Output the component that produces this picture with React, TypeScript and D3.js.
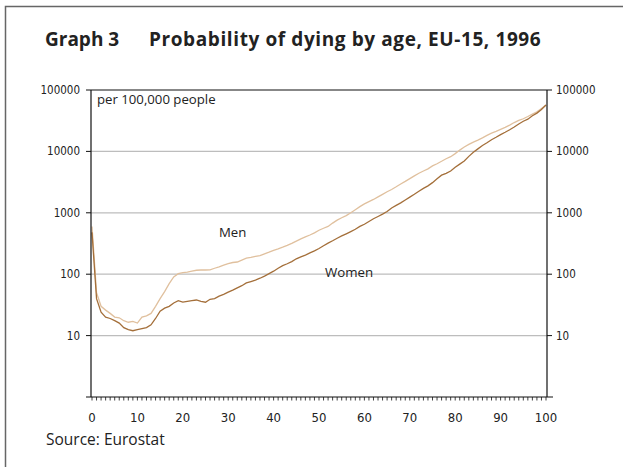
import * as d3 from 'd3';

const ages = d3.range(0, 101);

// probability of dying per 100,000 for ages 0..100
const men = [
  600, 50, 30, 26, 23, 20, 19.5, 17.5, 16.5, 17,
  16, 20, 21, 23, 30, 40, 52, 70, 90, 102,
  106, 108, 112, 116, 117, 117, 118, 125, 132, 140,
  148, 155, 158, 170, 182, 188, 195, 200, 215, 228,
  245, 258, 275, 295, 318, 345, 375, 405, 435, 470,
  520, 560, 600, 680, 760, 830, 900, 1000, 1120, 1260,
  1400, 1520, 1650, 1820, 2000, 2200, 2400, 2650, 2950, 3250,
  3600, 4000, 4400, 4800, 5200, 5800, 6300, 6900, 7600, 8200,
  9200, 10500, 11800, 13000, 14200, 15300, 16600, 18200, 19800, 21200,
  22800, 24600, 26800, 29500, 32000, 34000, 37000, 40500, 44000, 50000,
  57000,
];

const women = [
  480, 40, 24, 20, 19, 17.5, 16, 13.5, 12.5, 12,
  12.5, 13, 13.5, 15, 19, 25, 28, 30, 34, 37,
  35, 36, 37, 38, 36, 35, 39, 40, 44, 47,
  51, 55, 60, 65, 72, 76, 80, 86, 93, 102,
  112, 125, 138, 148, 160, 178, 192, 205, 222, 240,
  262, 290, 320, 350, 385, 420, 455, 495, 540, 600,
  650, 720, 800, 870, 950, 1050, 1200, 1320, 1450, 1620,
  1800, 2000, 2250, 2500, 2750, 3100, 3600, 4100, 4400, 4800,
  5500, 6200, 7000, 8300, 9700, 11000, 12500, 13800, 15500, 17000,
  18800, 20500, 22500, 25000, 28000, 31000, 33500, 38000, 42000, 48000,
  57000,
];

const yTicks = [10, 100, 1000, 10000, 100000];
const yGrid = [10, 100, 1000, 10000];
const xTicks = [0, 10, 20, 30, 40, 50, 60, 70, 80, 90, 100];

const W = 623;
const H = 467;
const left = 91;
const right = 547;
const top = 90;
const bottom = 397;

const menColor = '#e0c09e';
const womenColor = '#a46f3a';
const sans = '"Open Sans", "Noto Sans", sans-serif';
const narrow = '"Liberation Sans Narrow", "DejaVu Sans Condensed", sans-serif';

export default function App() {
  const x = d3.scaleLinear().domain([0, 100]).range([left + 1, right - 1]);
  const y = d3.scaleLog().domain([1, 100000]).range([bottom, top]);

  const line = d3
    .line<number>()
    .x((_, i) => x(ages[i]))
    .y((d) => y(d));

  return (
    <svg
      width={W}
      height={H}
      style={{ position: 'absolute', left: 0, top: 0, background: '#fff' }}
    >
      {/* outer frame */}
      <path d={`M5.5,${H} V6.5 H${W}`} fill="none" stroke="#666" strokeWidth={1.5} />

      <text x={45} y={46} fontFamily={sans} fontWeight="bold" fontSize={19} fill="#222">
        Graph 3
      </text>
      <text
        x={149}
        y={46}
        fontFamily={sans}
        fontWeight="bold"
        fontSize={19}
        letterSpacing={0.6}
        fill="#222"
      >
        Probability of dying by age, EU-15, 1996
      </text>

      {/* grid */}
      {yGrid.map((t) => (
        <line key={t} x1={left} x2={right} y1={y(t)} y2={y(t)} stroke="#bdbdbd" strokeWidth={1.3} />
      ))}

      {/* series */}
      <path d={line(men) ?? ''} fill="none" stroke={menColor} strokeWidth={1.3} />
      <path d={line(women) ?? ''} fill="none" stroke={womenColor} strokeWidth={1.3} />

      {/* frame of plot */}
      <line x1={left} x2={right} y1={top} y2={top} stroke="#111" strokeWidth={1.2} />
      <line x1={left} x2={left} y1={top} y2={bottom} stroke="#111" strokeWidth={1.2} />
      <line x1={right} x2={right} y1={top} y2={bottom} stroke="#111" strokeWidth={1.2} />
      <line x1={86} x2={553} y1={bottom} y2={bottom} stroke="#111" strokeWidth={1.2} />

      {/* y ticks left & right */}
      {yTicks.map((t) => (
        <g key={t}>
          <line x1={left - 5} x2={left} y1={y(t)} y2={y(t)} stroke="#111" />
          <line x1={right} x2={right + 5} y1={y(t)} y2={y(t)} stroke="#111" />
          <text
            x={80}
            y={y(t)}
            dy="0.35em"
            textAnchor="end"
            fontFamily={narrow}
            fontSize={11.5}
            fill="#222"
          >
            {t}
          </text>
          <text x={556} y={y(t)} dy="0.35em" fontFamily={narrow} fontSize={11.5} fill="#222">
            {t}
          </text>
        </g>
      ))}

      {/* x minor ticks every year */}
      {ages.map((a) => (
        <line key={a} x1={x(a)} x2={x(a)} y1={bottom} y2={bottom + 3.5} stroke="#111" strokeWidth={0.8} />
      ))}
      {xTicks.map((t) => (
        <text
          key={t}
          x={x(t)}
          y={422}
          textAnchor="middle"
          fontFamily={narrow}
          fontSize={13}
          fill="#222"
        >
          {t}
        </text>
      ))}

      <text x={97} y={104} fontFamily={sans} fontSize={13.2} fill="#222">
        per 100,000 people
      </text>
      <text x={219} y={237} fontFamily={sans} fontSize={13.2} fill="#222">
        Men
      </text>
      <text x={325} y={277} fontFamily={sans} fontSize={13.3} fill="#222">
        Women
      </text>
      <text x={46} y={445} fontFamily={sans} fontSize={15.5} fill="#222">
        Source: Eurostat
      </text>
    </svg>
  );
}
